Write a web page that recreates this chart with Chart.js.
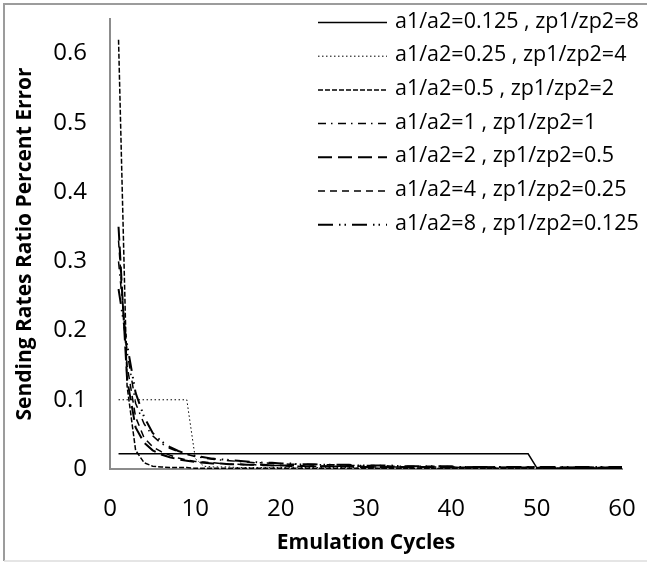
<!DOCTYPE html>
<html>
<head>
<meta charset="utf-8">
<style>
  html, body { margin: 0; padding: 0; background: #fff; }
  #wrap { width: 647px; height: 563px; }
</style>
<script src="https://cdn.jsdelivr.net/npm/chart.js@4/dist/chart.umd.min.js"></script>
</head>
<body>
<div id="wrap"><canvas id="chart" width="647" height="563"></canvas></div>
<script>
/* ================= DATA ================= */
const cycles = [1,2,3,4,5,6,7,8,9,10,11,12,13,14,15,16,17,18,19,20,
  21,22,23,24,25,26,27,28,29,30,31,32,33,34,35,36,37,38,39,40,
  41,42,43,44,45,46,47,48,49,50,51,52,53,54,55,56,57,58,59,60];

const labels = [
  "a1/a2=0.125 , zp1/zp2=8",
  "a1/a2=0.25 , zp1/zp2=4",
  "a1/a2=0.5 , zp1/zp2=2",
  "a1/a2=1 , zp1/zp2=1",
  "a1/a2=2 , zp1/zp2=0.5",
  "a1/a2=4 , zp1/zp2=0.25",
  "a1/a2=8 , zp1/zp2=0.125"
];

const ratio0125 = [0.022,0.022,0.022,0.022,0.022,0.022,0.022,0.022,0.022,0.022,
  0.022,0.022,0.022,0.022,0.022,0.022,0.022,0.022,0.022,0.022,
  0.022,0.022,0.022,0.022,0.022,0.022,0.022,0.022,0.022,0.022,
  0.022,0.022,0.022,0.022,0.022,0.022,0.022,0.022,0.022,0.022,
  0.022,0.022,0.022,0.022,0.022,0.022,0.022,0.022,0.022,0.002,
  0.001,0.001,0.001,0.001,0.001,0.001,0.001,0.001,0.001,0.001];

const ratio025 = [0.1,0.1,0.1,0.1,0.1,0.1,0.1,0.1,0.1,0.015,
  0.004,0.003,0.003,0.003,0.002,0.002,0.002,0.002,0.002,0.002,
  0.002,0.002,0.002,0.002,0.002,0.002,0.002,0.002,0.002,0.002,
  0.001,0.001,0.001,0.001,0.001,0.001,0.001,0.001,0.001,0.001,
  0.001,0.001,0.001,0.001,0.001,0.001,0.001,0.001,0.001,0.001,
  0.001,0.001,0.001,0.001,0.001,0.001,0.001,0.001,0.001,0.001];

const ratio05 = [0.62,0.12,0.027,0.009,0.004,0.003,0.002,0.002,0.002,0.001,
  0.001,0.001,0.001,0.001,0.001,0.001,0.001,0.001,0.001,0.001,
  0.001,0.001,0.001,0.001,0.001,0.001,0.001,0.001,0.001,0.001,
  0.001,0.001,0.001,0.001,0.001,0.001,0.001,0.001,0.001,0.001,
  0.001,0.001,0.001,0.001,0.001,0.001,0.001,0.001,0.001,0.001,
  0.001,0.001,0.001,0.001,0.001,0.001,0.001,0.001,0.001,0.001];

const ratio1 = [0.30,0.17,0.095,0.065,0.048,0.037,0.030,0.025,0.021,0.018,
  0.016,0.014,0.013,0.012,0.011,0.010,0.009,0.009,0.008,0.008,
  0.007,0.007,0.007,0.006,0.006,0.006,0.006,0.005,0.005,0.005,
  0.005,0.005,0.004,0.004,0.004,0.004,0.004,0.004,0.004,0.003,
  0.003,0.003,0.003,0.003,0.003,0.003,0.003,0.003,0.003,0.003,
  0.003,0.002,0.002,0.002,0.002,0.002,0.002,0.002,0.002,0.002];

const ratio2 = [0.35,0.13,0.06,0.038,0.027,0.021,0.017,0.014,0.012,0.010,
  0.009,0.008,0.008,0.007,0.007,0.006,0.006,0.006,0.005,0.005,
  0.005,0.005,0.004,0.004,0.004,0.004,0.004,0.004,0.003,0.003,
  0.003,0.003,0.003,0.003,0.003,0.003,0.003,0.003,0.002,0.002,
  0.002,0.002,0.002,0.002,0.002,0.002,0.002,0.002,0.002,0.002,
  0.002,0.002,0.002,0.002,0.002,0.002,0.002,0.002,0.002,0.002];

const ratio4 = [0.33,0.15,0.075,0.045,0.032,0.025,0.020,0.016,0.013,0.011,
  0.010,0.009,0.008,0.007,0.007,0.006,0.006,0.005,0.005,0.005,
  0.004,0.004,0.004,0.004,0.004,0.004,0.004,0.004,0.004,0.004,
  0.003,0.003,0.003,0.003,0.003,0.003,0.003,0.003,0.003,0.003,
  0.002,0.002,0.002,0.002,0.002,0.002,0.002,0.002,0.002,0.002,
  0.002,0.002,0.002,0.002,0.002,0.002,0.002,0.002,0.002,0.002];

const ratio8 = [0.26,0.18,0.11,0.075,0.052,0.040,0.032,0.026,0.022,0.019,
  0.017,0.015,0.014,0.013,0.012,0.011,0.010,0.009,0.009,0.008,
  0.008,0.007,0.007,0.007,0.006,0.006,0.006,0.006,0.005,0.005,
  0.005,0.005,0.005,0.004,0.004,0.004,0.004,0.004,0.004,0.004,
  0.003,0.003,0.003,0.003,0.003,0.003,0.003,0.003,0.003,0.003,
  0.003,0.003,0.003,0.003,0.003,0.003,0.003,0.003,0.003,0.003];

const xTicks = [0, 10, 20, 30, 40, 50, 60];
const yTicks = [0, 0.1, 0.2, 0.3, 0.4, 0.5, 0.6];

/* ================= STYLE ================= */
const FONT = "'Open Sans'";
const seriesValues = [ratio0125, ratio025, ratio05, ratio1, ratio2, ratio4, ratio8];
const dashes = [
  [],
  [1.5, 2.5],
  [5, 2],
  [8, 5, 1.5, 5.5],
  [14, 6],
  [7, 5],
  [15, 6, 1.5, 4, 1.5, 6]
];
const widths = [1.5, 1, 1.5, 1.5, 2, 1.5, 2];

const datasets = seriesValues.map((vals, i) => ({
  label: labels[i],
  data: cycles.map((c, j) => ({ x: c, y: vals[j] })),
  borderColor: "#000",
  borderWidth: widths[i],
  borderDash: dashes[i],
  pointRadius: 0,
  fill: false,
  tension: 0
}));

/* ----- frame + background ----- */
const framePlugin = {
  id: "frame",
  beforeDraw(chart) {
    const c = chart.ctx;
    c.save();
    c.fillStyle = "#fff";
    c.fillRect(0, 0, chart.width, chart.height);
    c.strokeStyle = "#9c9c9c";
    c.lineWidth = 2;
    c.beginPath();
    c.moveTo(4, 561);
    c.lineTo(4, 4);
    c.lineTo(chart.width, 4);
    c.stroke();
    c.strokeStyle = "#dcdcdc";
    c.lineWidth = 1.5;
    c.beginPath();
    c.moveTo(4, 561);
    c.lineTo(chart.width, 561);
    c.stroke();
    c.restore();
  }
};

/* ----- legend drawn inside the plot, top right ----- */
const legendPlugin = {
  id: "insideLegend",
  afterDatasetsDraw(chart) {
    const c = chart.ctx;
    c.save();
    c.font = "21.5px " + FONT;
    c.fillStyle = "#000";
    c.textBaseline = "middle";
    c.textAlign = "left";
    chart.data.datasets.forEach((ds, i) => {
      const y = 21.5 + i * 33.7;
      c.strokeStyle = "#000";
      c.lineWidth = ds.borderWidth;
      c.setLineDash(ds.borderDash);
      c.beginPath();
      c.moveTo(318, y + 1);
      c.lineTo(387, y + 1);
      c.stroke();
      c.setLineDash([]);
      c.fillText(ds.label, 395, y);
    });
    c.restore();
  }
};

new Chart(document.getElementById("chart"), {
  type: "line",
  data: { datasets },
  plugins: [framePlugin, legendPlugin],
  options: {
    responsive: false,
    animation: false,
    devicePixelRatio: 1,
    layout: { padding: { left: 0, top: 19, right: 25, bottom: 0 } },
    plugins: { legend: { display: false }, tooltip: { enabled: false } },
    scales: {
      x: {
        type: "linear",
        min: 0,
        max: 60,
        grid: { display: false, drawTicks: false },
        border: { display: true, color: "#8c8c8c", width: 2 },
        afterBuildTicks: (axis) => { axis.ticks = xTicks.map(v => ({ value: v })); },
        afterFit: (axis) => { axis.height = 94; axis.paddingLeft = 0; axis.paddingRight = 0; },
        ticks: { color: "#000", padding: 26, font: { family: FONT, size: 24 } },
        title: {
          display: true,
          text: "Emulation Cycles",
          color: "#000",
          padding: { top: 0, bottom: 7 },
          font: { family: FONT, size: 21, weight: "bold" }
        }
      },
      y: {
        type: "linear",
        min: 0,
        max: 0.65,
        grid: { display: false, drawTicks: false },
        border: { display: true, color: "#8c8c8c", width: 2 },
        afterBuildTicks: (axis) => { axis.ticks = yTicks.map(v => ({ value: v })); },
        afterFit: (axis) => { axis.width = 110; axis.paddingTop = 0; axis.paddingBottom = 0; },
        ticks: {
          color: "#000",
          padding: 23,
          font: { family: FONT, size: 24 },
          callback: (v) => String(v)
        },
        title: {
          display: true,
          text: "Sending Rates Ratio Percent Error",
          color: "#000",
          padding: { top: 12, bottom: 0 },
          font: { family: FONT, size: 21, weight: "bold" }
        }
      }
    }
  }
});
</script>
</body>
</html>
